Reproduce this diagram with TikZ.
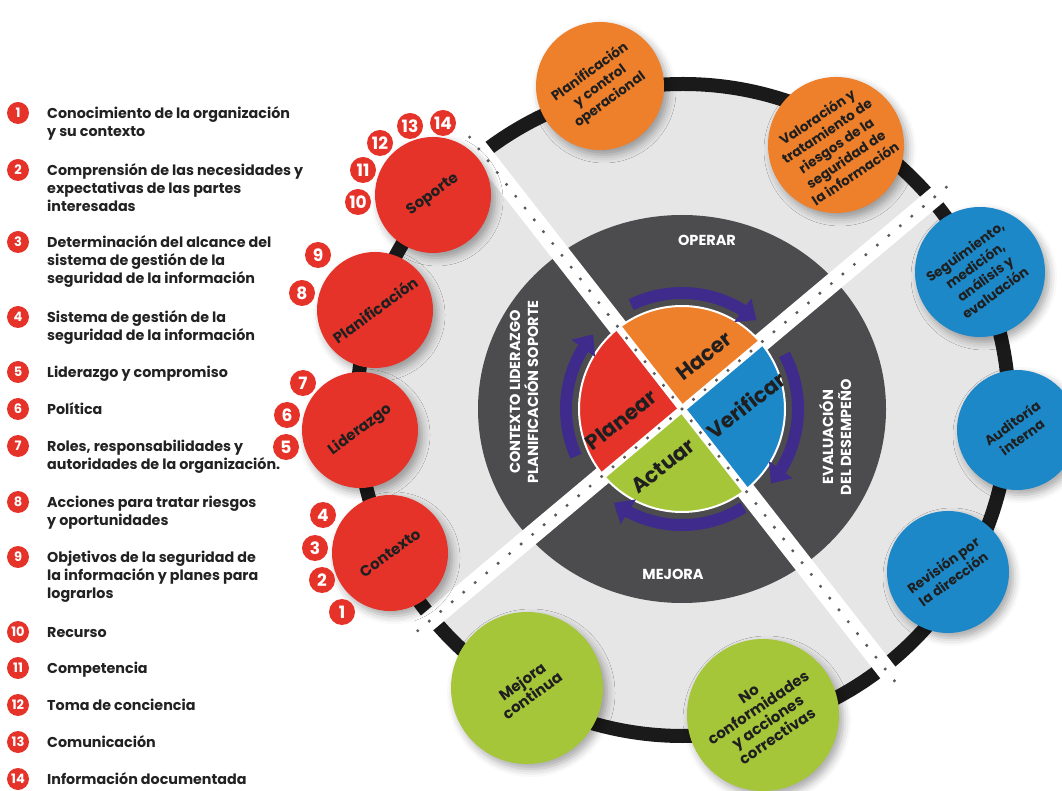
\documentclass[tikz,border=0pt]{standalone}
\usepackage{fontspec}
\setmainfont{Poppins}
\usetikzlibrary{arrows.meta,bending,shadows.blur,calc}
\definecolor{cred}{HTML}{E5332A}
\definecolor{corange}{HTML}{EE7F2B}
\definecolor{cblue}{HTML}{1D88C8}
\definecolor{cgreen}{HTML}{A6C63A}
\definecolor{cdark}{HTML}{4C4C4E}
\definecolor{clight}{HTML}{E6E6E6}
\definecolor{cpurple}{HTML}{3E2B8C}
\definecolor{cink}{HTML}{1F1F1F}
\definecolor{clegend}{HTML}{222222}
\definecolor{cdot}{HTML}{5A5A5A}
\definecolor{cring}{HTML}{1A1A1A}
\tikzset{
  softshadow/.style={blur shadow={shadow xshift=4pt,shadow yshift=-5pt,shadow blur radius=8pt,shadow opacity=35}},
  disc/.style 2 args={circle,inner sep=0pt,minimum size=2*#1,fill=#2,softshadow},
  disctext/.style={align=center,inner sep=0pt,text=cink,font=\bfseries\fontsize{13.5}{17}\selectfont},
  bigtext/.style={align=center,inner sep=0pt,text=cink,font=\bfseries\fontsize{15}{17}\selectfont},
  badge/.style={circle,fill=cred,inner sep=0pt,minimum size=26,text=white,font=\bfseries\fontsize{17}{17}\selectfont},
  lbadge/.style={circle,fill=cred,inner sep=0pt,minimum size=22,text=white,font=\bfseries\fontsize{13}{13}\selectfont},
  legtext/.style={anchor=north west,align=left,inner sep=0pt,text=clegend,font=\bfseries\fontsize{14.3}{18}\selectfont},
  bandlabel/.style={align=center,inner sep=0pt,text=white,font=\bfseries\fontsize{14.5}{18}\selectfont},
  pdca/.style={inner sep=0pt,text=cink,rotate=38,font=\bfseries\fontsize{21}{21}\selectfont},
  cyclearrow/.style={cpurple,line width=12,-{Triangle[width=28,length=17]}},
  band/.style={white,line width=19},
  seam/.style={white,line width=7}
}
\newcommand\legitem[3]{%
  \node[lbadge] (lb#1) at (18,{790-#2}) {#1};
  \node[legtext] (lt#1) at (47,{797.6-#2}) {\rule{0pt}{12.5pt}#3};}
\begin{document}
\begin{tikzpicture}[x=1pt,y=1pt]
\useasboundingbox (0,0) rectangle (1062,790);
\coordinate (C) at (682,381);
\coordinate (R) at (683,380);

% outer light field and ring
\fill[clight] (R) circle (326);
\draw[cring,line width=14] (R) circle (326);

% dark disc
\fill[cdark] (C) ellipse [x radius=204,y radius=194];

% white bands
\draw[band] ($(C)+(128:345)$) -- ($(C)+(-52:345)$);
\draw[band] ($(C)+(40:345)$) -- ($(C)+(220:345)$);

% PDCA quadrants
\fill[corange] (C) -- ++(40:103) arc[start angle=40,end angle=128,radius=103] -- cycle;
\fill[cred] (C) -- ++(128:103) arc[start angle=128,end angle=220,radius=103] -- cycle;
\fill[cgreen] (C) -- ++(220:103) arc[start angle=220,end angle=308,radius=103] -- cycle;
\fill[cblue] (C) -- ++(308:103) arc[start angle=308,end angle=400,radius=103] -- cycle;
\draw[seam] ($(C)+(128:105)$) -- ($(C)+(-52:105)$);
\draw[seam] ($(C)+(40:105)$) -- ($(C)+(220:105)$);
\draw[white,line width=2] (C) circle (103);

% dotted centre lines of the bands
\foreach \k in {-23,...,23}{
  \fill[cdot] ($(C)+(128:\k*15)$) circle (1.7);
  \fill[cdot] ($(C)+(40:\k*15)$) circle (1.7);
}

% cycle arrows
\draw[cyclearrow] ($(C)+(116:116)$) arc[start angle=116,end angle=50,radius=116];
\draw[cyclearrow] ($(C)+(28:116)$) arc[start angle=28,end angle=-40,radius=116];
\draw[cyclearrow] ($(C)+(-58:116)$) arc[start angle=-58,end angle=-126,radius=116];
\draw[cyclearrow] ($(C)+(204:116)$) arc[start angle=204,end angle=140,radius=116];

% quadrant words
\node[pdca] (hacer) at (704,434) {Hacer};
\node[pdca] (planear) at (621,370) {Planear};
\node[pdca] (verificar) at (746,385) {Verificar};
\node[pdca] (actuar) at (663,324) {Actuar};

% band labels
\node[bandlabel] (operar) at (707,550) {OPERAR};
\node[bandlabel] (mejora) at (673,216) {MEJORA};
\node[bandlabel,rotate=90] (evaluacion) at (835,353) {EVALUACIÓN\\DEL DESEMPEÑO};
\node[bandlabel,rotate=90] (contexto) at (524,398) {CONTEXTO LIDERAZGO\\PLANIFICACIÓN SOPORTE};

% red clause discs
\node[disc={58}{cred}] (sop) at (433,595) {};
\node[bigtext,rotate=36] at (sop) {Soporte};
\node[disc={58}{cred}] (pla) at (375,480) {};
\node[bigtext,rotate=36] at (pla) {Planificación};
\node[disc={58}{cred}] (lid) at (360,360) {};
\node[bigtext,rotate=37] at (lid) {Liderazgo};
\node[disc={58}{cred}] (con) at (390,237) {};
\node[bigtext,rotate=36] at (con) {Contexto};

% orange discs
\node[disc={64}{corange}] (or1) at (600,704) {};
\node[disctext,rotate=36] at (or1) {Planificación\\y control\\operacional};
\node[disc={68}{corange}] (or2) at (836,645) {};
\node[disctext,rotate=34] at (or2) {Valoración y\\tratamiento de\\riesgos de la\\seguridad de\\la información};

% blue discs
\node[disc={65}{cblue}] (bl1) at (980,518) {};
\node[disctext,rotate=36] at (bl1) {Seguimiento,\\medición,\\análisis y\\evaluación};
\node[disc={60}{cblue}] (bl2) at (1017,360) {};
\node[disctext,rotate=36] at (bl2) {Auditoría\\interna};
\node[disc={61}{cblue}] (bl3) at (948,218) {};
\node[disctext,rotate=36] at (bl3) {Revisión por\\la dirección};

% green discs
\node[disc={76}{cgreen}] (gr1) at (527,102) {};
\node[bigtext,rotate=36] at (gr1) {Mejora\\continua};
\node[disc={76}{cgreen}] (gr2) at (763,75) {};
\node[bigtext,rotate=34] at (gr2) {No\\conformidades\\y acciones\\correctivas};

% numbered badges around the red discs
\node[badge] (b1) at (342,178) {1};
\node[badge] (b2) at (322,210) {2};
\node[badge] (b3) at (315,242) {3};
\node[badge] (b4) at (323,275) {4};
\node[badge] (b5) at (286,343) {5};
\node[badge] (b6) at (287,375) {6};
\node[badge] (b7) at (303,407) {7};
\node[badge] (b8) at (302,497) {8};
\node[badge] (b9) at (318,535) {9};
\node[badge] (b10) at (358,588) {10};
\node[badge] (b11) at (363,620) {11};
\node[badge] (b12) at (380,647) {12};
\node[badge] (b13) at (410,664) {13};
\node[badge] (b14) at (443,667) {14};

% legend
\legitem{1}{113}{Conocimiento de la organización\\y su contexto}
\legitem{2}{170}{Comprensión de las necesidades y\\expectativas de las partes\\interesadas}
\legitem{3}{242}{Determinación del alcance del\\sistema de gestión de la\\seguridad de la información}
\legitem{4}{317}{Sistema de gestión de la\\seguridad de la información}
\legitem{5}{372}{Liderazgo y compromiso}
\legitem{6}{409}{Política}
\legitem{7}{446}{Roles, responsabilidades y\\autoridades de la organización.}
\legitem{8}{502}{Acciones para tratar riesgos\\y oportunidades}
\legitem{9}{557}{Objetivos de la seguridad de\\la información y planes para\\lograrlos}
\legitem{10}{632}{Recurso}
\legitem{11}{668}{Competencia}
\legitem{12}{705}{Toma de conciencia}
\legitem{13}{742}{Comunicación}
\legitem{14}{779}{Información documentada}
\end{tikzpicture}
\end{document}
